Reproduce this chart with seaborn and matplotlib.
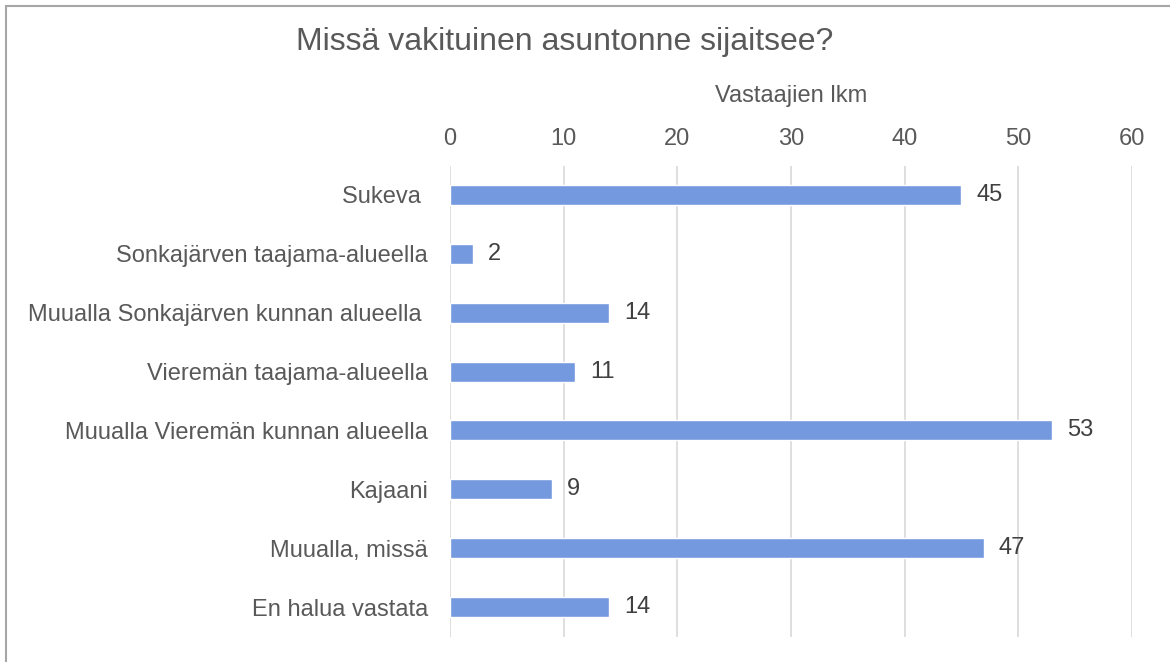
import matplotlib.pyplot as plt
import pandas as pd
import seaborn as sns

categories = [
    "Sukeva ",
    "Sonkajärven taajama-alueella",
    "Muualla Sonkajärven kunnan alueella ",
    "Vieremän taajama-alueella",
    "Muualla Vieremän kunnan alueella",
    "Kajaani",
    "Muualla, missä",
    "En halua vastata",
]
counts = [45, 2, 14, 11, 53, 9, 47, 14]

df = pd.DataFrame({"category": categories, "count": counts})

sns.set_style("white")
plt.rcParams["font.family"] = ["Liberation Sans", "DejaVu Sans"]
text_color = "#595959"
fs = 17

fig = plt.figure(figsize=(11.7, 6.62), dpi=100)
ax = fig.add_axes([0.3846, 0.0385, 0.5829, 0.7115])

sns.barplot(data=df, x="count", y="category", orient="h",
            color="#7499DF", width=0.34, saturation=1, ax=ax)

for i, v in enumerate(counts):
    ax.text(v + 1.3, i, str(v), va="center", ha="left",
            fontsize=fs, color="#404040")

ax.set_xlim(0, 60)
ax.set_xticks(range(0, 61, 10))
ax.xaxis.tick_top()
ax.xaxis.set_label_position("top")
ax.set_xlabel("Vastaajien lkm", fontsize=fs, color=text_color, labelpad=19)
ax.set_ylabel("")
ax.tick_params(axis="both", length=0, labelsize=fs, colors=text_color)
ax.tick_params(axis="x", pad=11)
ax.tick_params(axis="y", pad=16)
ax.grid(axis="x", color="#D9D9D9", linewidth=1.2)
ax.set_axisbelow(True)
for s in ax.spines.values():
    s.set_visible(False)

fig.text(565 / 1170, 1 - 42 / 662, "Missä vakituinen asuntonne sijaitsee?",
         ha="center", va="center", fontsize=23, color=text_color)

# chart frame (only top and left edges visible)
fig.add_artist(plt.Line2D([6 / 1170, 1], [1 - 6 / 662, 1 - 6 / 662],
                          color="#A6A6A6", linewidth=1.5))
fig.add_artist(plt.Line2D([6 / 1170, 6 / 1170], [0, 1 - 6 / 662],
                          color="#A6A6A6", linewidth=1.5))

fig.savefig("out.png", dpi=100, facecolor="white")
